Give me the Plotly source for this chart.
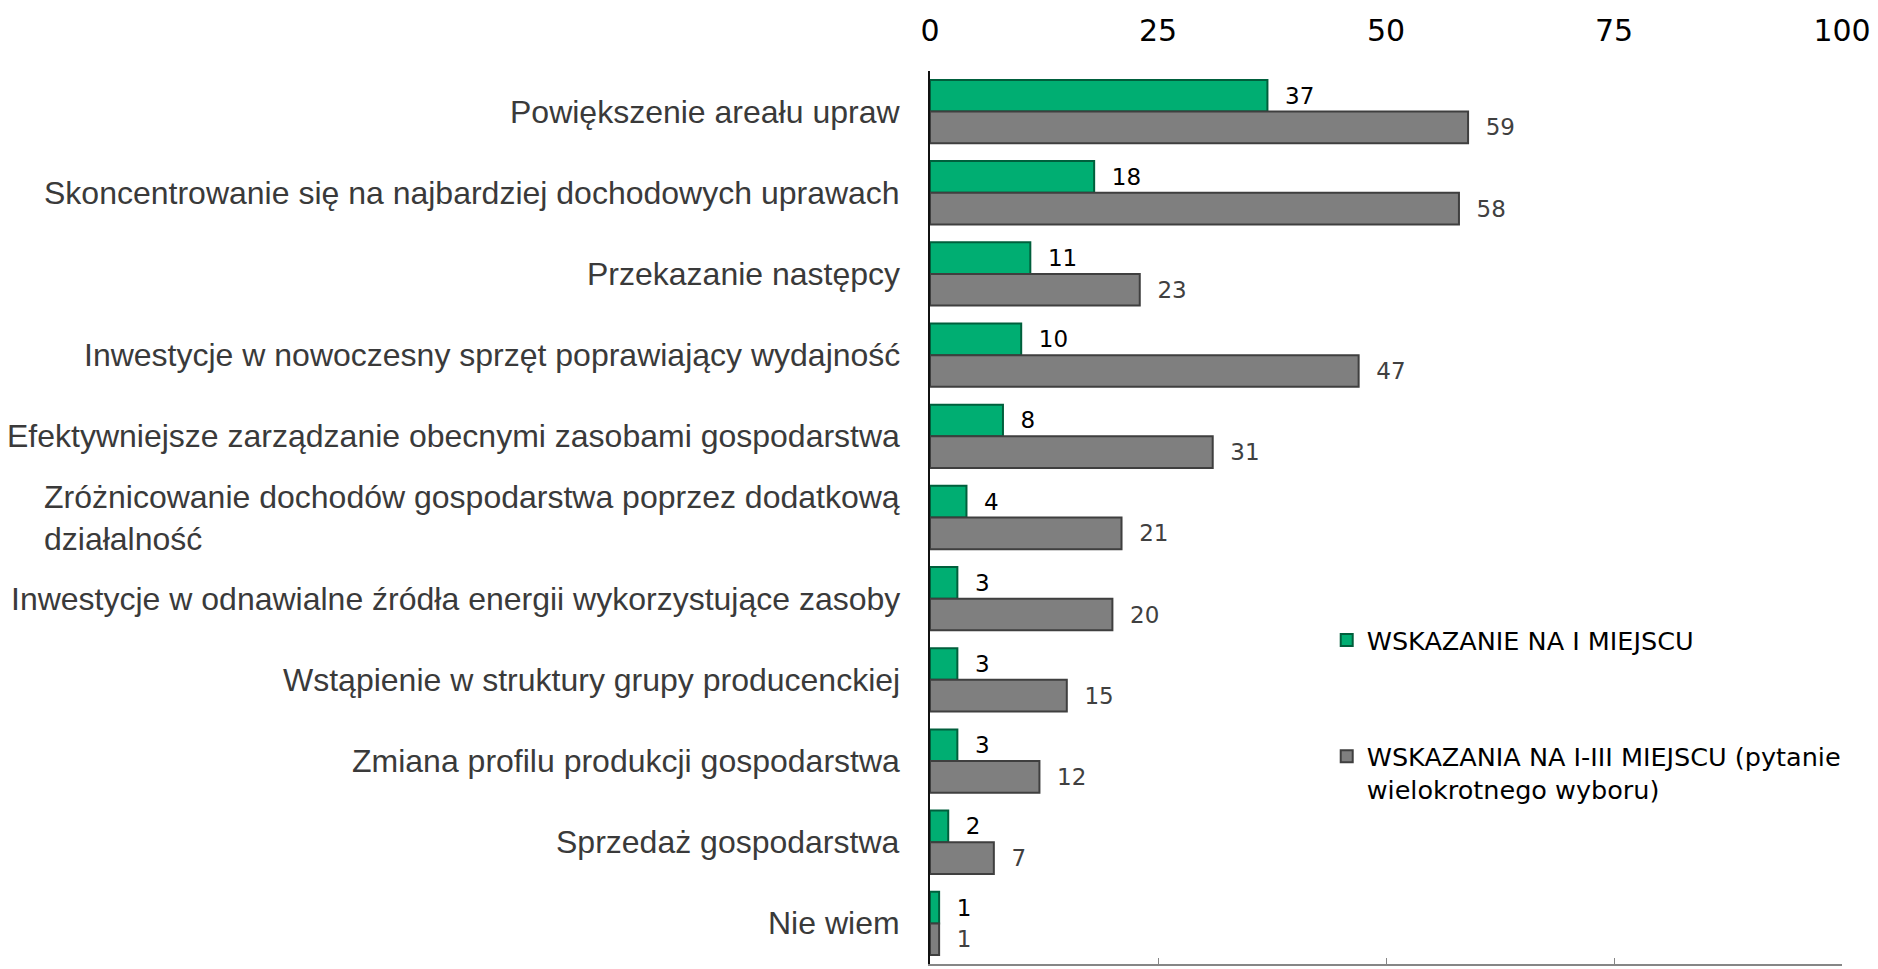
import plotly.graph_objects as go

categories = [
    "Powiększenie areału upraw",
    "Skoncentrowanie się na najbardziej dochodowych uprawach",
    "Przekazanie następcy",
    "Inwestycje w nowoczesny sprzęt poprawiający wydajność",
    "Efektywniejsze zarządzanie obecnymi zasobami gospodarstwa",
    "Zróżnicowanie dochodów gospodarstwa poprzez dodatkową<br>działalność",
    "Inwestycje w odnawialne źródła energii wykorzystujące zasoby",
    "Wstąpienie w struktury grupy producenckiej",
    "Zmiana profilu produkcji gospodarstwa",
    "Sprzedaż gospodarstwa",
    "Nie wiem",
]
first_place = [37, 18, 11, 10, 8, 4, 3, 3, 3, 2, 1]
top_three = [59, 58, 23, 47, 31, 21, 20, 15, 12, 7, 1]
series_names = [
    "WSKAZANIE NA I MIEJSCU",
    "WSKAZANIA NA I-III MIEJSCU (pytanie<br>wielokrotnego wyboru)",
]
tick_values = [0, 25, 50, 75, 100]

LABEL_FONT = "Verdana, DejaVu Sans, sans-serif"

fig = go.Figure()
fig.add_trace(go.Bar(
    y=categories, x=first_place, orientation="h", name=series_names[0],
    marker=dict(color="#00AE72", line=dict(color="#005F3C", width=2)),
    text=first_place, texttemplate="  %{x}", textposition="outside",
    textfont=dict(family=LABEL_FONT, size=23, color="#000000"),
    cliponaxis=False, legendgroup="a",
))
fig.add_trace(go.Bar(
    y=categories, x=top_three, orientation="h", name=series_names[1],
    marker=dict(color="#7F7F7F", line=dict(color="#3F3F3F", width=2)),
    text=top_three, texttemplate="  %{x}", textposition="outside",
    textfont=dict(family=LABEL_FONT, size=23, color="#404040"),
    cliponaxis=False, legendgroup="b",
))
fig.add_trace(go.Scatter(
    x=[None], y=[None], xaxis="x2", showlegend=False, hoverinfo="skip", mode="markers",
))

for cat in categories:
    fig.add_annotation(
        x=0, xref="paper", y=cat, yref="y", xanchor="right", yanchor="middle",
        xshift=-28, align="left", showarrow=False, text=cat,
        font=dict(family="Arial, Liberation Sans, sans-serif", size=32, color="#3A3A3A"),
    )

fig.update_layout(
    width=1870, height=961,
    margin=dict(l=922, r=36, t=63, b=5),
    paper_bgcolor="white", plot_bgcolor="white",
    barmode="group", bargap=0.22, bargroupgap=0,
    showlegend=True,
    legend=dict(
        x=0.435, y=0.3886, xanchor="left", yanchor="top",
        font=dict(family=LABEL_FONT, size=25.5, color="#000000"),
        tracegroupgap=80, traceorder="grouped", valign="top",
        bgcolor="rgba(0,0,0,0)",
    ),
    xaxis=dict(
        side="top", range=[0, 100], tickvals=tick_values, automargin=False,
        showgrid=False, zeroline=False, showline=False, ticks="",
        tickfont=dict(family="Verdana, DejaVu Sans, sans-serif", size=30, color="#000000"),
        ticklabelstandoff=23,
    ),
    xaxis2=dict(
        overlaying="x", side="bottom", anchor="y", range=[0, 100], tickvals=tick_values,
        automargin=False,
        showgrid=False, zeroline=False, showline=True, linecolor="#868686", linewidth=1.5,
        ticks="inside", ticklen=6, tickcolor="#868686", showticklabels=False,
    ),
    yaxis=dict(
        autorange="reversed", showticklabels=False, ticks="", automargin=False,
        showline=True, linecolor="#111111", linewidth=1.5, showgrid=False, zeroline=False,
    ),
)

fig.write_html("out.html")
